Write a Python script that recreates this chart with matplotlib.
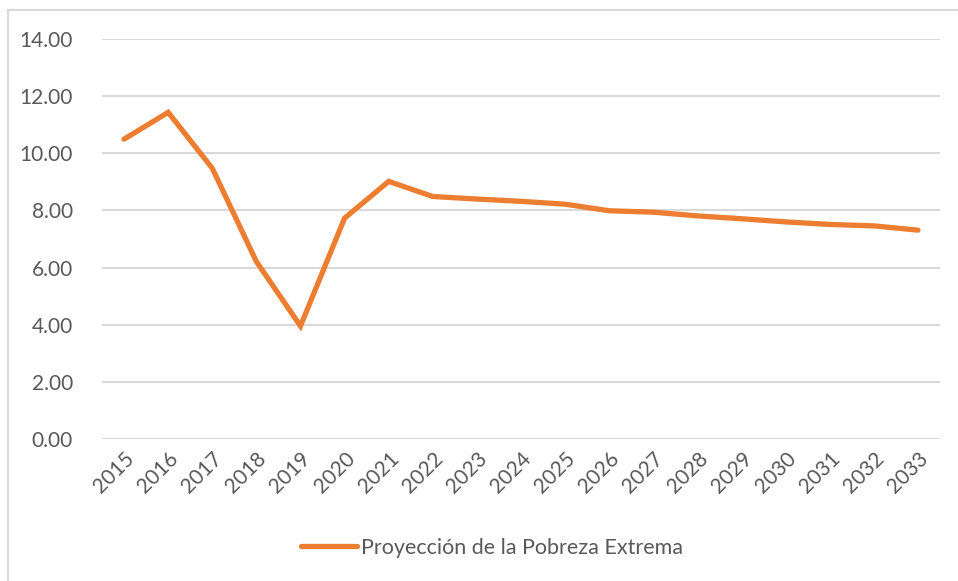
import matplotlib.pyplot as plt
from matplotlib.patches import Rectangle

years = [str(y) for y in range(2015, 2034)]
pobreza = [10.50, 11.44, 9.48, 6.21, 3.95, 7.73, 9.02, 8.49, 8.40, 8.32,
           8.22, 7.99, 7.94, 7.81, 7.71, 7.60, 7.51, 7.46, 7.31]
yticks = [0, 2, 4, 6, 8, 10, 12, 14]

orange = '#ED7D31'
grey_txt = '#595959'
plt.rcParams['font.family'] = ['Lato', 'DejaVu Sans']

W, H = 958, 581
fig = plt.figure(figsize=(W / 100, H / 100), dpi=100)

# outer chart border (only top/left visible in the crop)
fig.patches.append(Rectangle((8 / W, -0.1), 1.2, 1 - 10 / H + 0.1,
                             transform=fig.transFigure, fill=False,
                             edgecolor='#D9D9D9', linewidth=1.5))

ax = fig.add_axes([102 / W, 1 - 438.7 / H, (940 - 102) / W, (438.7 - 39.3) / H])
x = range(len(years))
ax.plot(x, pobreza, color=orange, linewidth=3.8, solid_capstyle='round',
        solid_joinstyle='miter', label='Proyección de la Pobreza Extrema', zorder=3)

ax.set_xlim(-0.5, len(years) - 0.5)
ax.set_ylim(0, 14)
ax.set_yticks(yticks)
ax.set_yticklabels([f'{v:.2f}' for v in yticks])
ax.set_xticks(list(x))
ax.set_xticklabels(years, rotation=45, ha='right', va='top', rotation_mode='anchor')
ax.tick_params(axis='both', length=0, colors=grey_txt, labelsize=15)
ax.tick_params(axis='y', pad=21)
ax.tick_params(axis='x', pad=7)
ax.grid(axis='y', color='#D9D9D9', linewidth=1.5)
ax.set_axisbelow(True)
for s in ax.spines.values():
    s.set_visible(False)

fig.legend(loc='center', bbox_to_anchor=(492 / W, 1 - 548 / H), frameon=False,
           fontsize=15.5, handlelength=2.6, handletextpad=0.15,
           labelcolor=grey_txt)

fig.savefig('out.png', dpi=100)
